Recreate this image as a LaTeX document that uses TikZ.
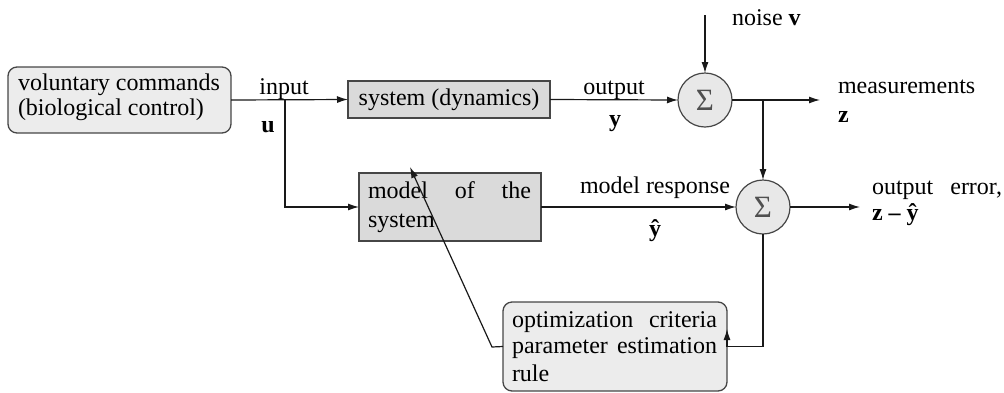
\documentclass[tikz,border=0pt]{standalone}
\usepackage{fontspec}
\setmainfont{Liberation Serif}
\usetikzlibrary{arrows.meta}
\definecolor{softgray}{RGB}{236,236,236}
\definecolor{midgray}{RGB}{218,218,218}
\definecolor{sumgray}{RGB}{232,232,232}
\definecolor{boxline}{RGB}{70,70,70}
\definecolor{wirecol}{RGB}{25,25,25}
\definecolor{sigmacol}{RGB}{80,80,80}
\begin{document}
\begin{tikzpicture}[x=1pt,y=-1pt,
  every node/.style={font=\fontsize{24}{26}\selectfont, inner sep=0pt, outer sep=0pt},
  roundbox/.style={draw=boxline, fill=softgray, rounded corners=9pt, line width=1.3pt},
  sqbox/.style={draw=boxline, fill=midgray, line width=1.5pt},
  sumnode/.style={circle, draw=boxline, fill=sumgray, minimum size=54pt, line width=1.2pt,
    text=sigmacol, font=\fontsize{31}{31}\selectfont},
  wire/.style={line width=1.2pt, draw=wirecol},
  arr/.style={wire, -{Latex[length=11pt,width=7pt]}},
  txt/.style={anchor=base west},
  lbl/.style={anchor=base}]

\useasboundingbox (0,0) rectangle (1004,392);

% blocks
\node[roundbox, minimum width=223pt, minimum height=66pt] (vc) at (119.5,100) {};
\node[txt] (vc1) at (18,90.5) {voluntary commands};
\node[txt] (vc2) at (18,115.5) {(biological control)};

\node[sqbox, minimum width=202pt, minimum height=37pt] (sys) at (449,99.5) {system (dynamics)};

\node[sqbox, minimum width=182pt, minimum height=68pt] (model) at (450,207) {};
\node[txt] (mod1) at (368,198) {\makebox[163pt][s]{model of the}};
\node[txt] (mod2) at (368,227) {system};

\node[roundbox, minimum width=224pt, minimum height=89pt] (opt) at (615,346.5) {};
\node[txt] (opt1) at (512,327) {\makebox[205pt][s]{optimization criteria}};
\node[txt] (opt2) at (512,353) {\makebox[205pt][s]{parameter estimation}};
\node[txt] (opt3) at (512,381) {rule};

\node[sumnode] (sum1) at (705,100) {Σ};
\node[sumnode] (sum2) at (763,207) {Σ};

% junctions and free ends
\coordinate (ubranch) at (285,100);
\coordinate (noisein) at (705,15);
\coordinate (measout) at (820,100);
\coordinate (zbranch) at (763,100);
\coordinate (errout) at (860,207);
\coordinate (fbtip) at (727,329);
\coordinate (adjknee) at (492,347);
\coordinate (adjtip) at (410,167);

% connectors
\draw[arr] (vc.east) -- (sys.west);
\draw[arr] (ubranch) |- (model.west);
\draw[arr] (sys.east) -- (sum1.west);
\draw[arr] (noisein) -- (sum1.north);
\draw[arr] (sum1.east) -- (measout);
\draw[arr] (zbranch) -- (sum2.north);
\draw[arr] (model.east) -- (sum2.west);
\draw[arr] (sum2.east) -- (errout);
\draw[arr] (sum2.south) |- (opt.east) -- (fbtip);
\draw[arr] (opt.west) -- (adjknee) -- (adjtip);

% signal labels
\node[lbl] (lin) at (284,94) {input};
\node[lbl] (lu) at (268,132) {\textbf{u}};
\node[lbl] (lout) at (614,94) {output};
\node[lbl] (ly) at (615,126) {\textbf{y}};
\node[txt] (lnoise) at (732,25) {noise \textbf{v}};
\node[txt] (lmeas) at (838,93) {measurements};
\node[txt] (lz) at (838,122) {\textbf{z}};
\node[txt] (lresp) at (580,193) {model response};
\node[lbl] (lyhat) at (655,236) {\textbf{ŷ}};
\node[txt] (lerr) at (872,194) {\makebox[130pt][s]{output error,}};
\node[txt] (lzy) at (872,220) {\textbf{z -- ŷ}};
\end{tikzpicture}
\end{document}
